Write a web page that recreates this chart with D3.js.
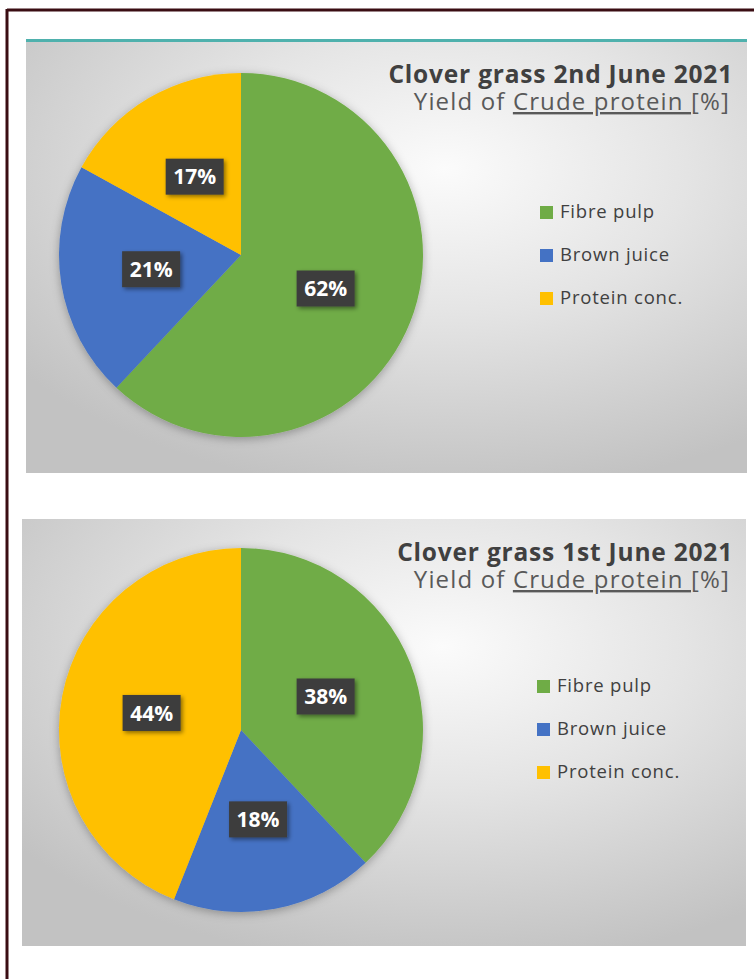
<!DOCTYPE html>
<html>
<head>
<meta charset="utf-8">
<script src="https://cdn.jsdelivr.net/npm/d3@7/dist/d3.min.js"></script>
<style>
  html, body { margin: 0; padding: 0; background: #ffffff; }
  svg { display: block; }
</style>
</head>
<body>
<svg id="chart" width="754" height="979"></svg>
<script>
// Crude protein yield split across the three process fractions
const categories = ["Fibre pulp", "Brown juice", "Protein conc."];
const sliceColors = ["#6fac46", "#4472c4", "#ffc000"];

const titleJune2 = "Clover grass 2nd June 2021";
const valuesJune2 = [62, 21, 17];

const titleJune1 = "Clover grass 1st June 2021";
const valuesJune1 = [38, 18, 44];

const subtitleLead = "Yield of ";
const subtitleUnderlined = "Crude protein ";
const subtitleTail = "[%]";

const svg = d3.select("#chart");
const defs = svg.append("defs");

// Soft grey radial fill of each chart area
const bg = defs.append("radialGradient")
  .attr("id", "panelFill")
  .attr("cx", "58%").attr("cy", "30%").attr("r", "75%");
bg.append("stop").attr("offset", "0%").attr("stop-color", "#fbfbfb");
bg.append("stop").attr("offset", "45%").attr("stop-color", "#e4e4e4");
bg.append("stop").attr("offset", "100%").attr("stop-color", "#c2c2c2");

const glow = defs.append("filter").attr("id", "pieGlow")
  .attr("x", "-20%").attr("y", "-20%").attr("width", "140%").attr("height", "140%");
glow.append("feDropShadow").attr("dx", 0).attr("dy", 2)
  .attr("stdDeviation", 5).attr("flood-color", "#000").attr("flood-opacity", 0.3);

const boxShadow = defs.append("filter").attr("id", "boxShadow")
  .attr("x", "-30%").attr("y", "-30%").attr("width", "160%").attr("height", "160%");
boxShadow.append("feDropShadow").attr("dx", 2).attr("dy", 2)
  .attr("stdDeviation", 2).attr("flood-color", "#000").attr("flood-opacity", 0.45);

// Outer frame (top and left edges)
svg.append("line").attr("x1", 7).attr("x2", 754).attr("y1", 10).attr("y2", 10)
  .attr("stroke", "#3a0d13").attr("stroke-width", 3);
svg.append("line").attr("x1", 7).attr("x2", 7).attr("y1", 9).attr("y2", 979)
  .attr("stroke", "#3a0d13").attr("stroke-width", 3);

const color = d3.scaleOrdinal().domain(categories).range(sliceColors);
const pie = d3.pie().sort(null).value(d => d.value);

function drawChart(cfg) {
  const g = svg.append("g");

  g.append("rect")
    .attr("x", cfg.x).attr("y", cfg.y)
    .attr("width", cfg.w).attr("height", cfg.h)
    .attr("fill", "url(#panelFill)");

  if (cfg.accent) {
    g.append("rect")
      .attr("x", cfg.x).attr("y", cfg.y)
      .attr("width", cfg.w).attr("height", 3)
      .attr("fill", "#4fb1ad");
  }

  const data = categories.map((c, i) => ({ category: c, value: cfg.values[i] }));
  const arcs = pie(data);
  const r = cfg.radius;
  const arc = d3.arc().innerRadius(0).outerRadius(r);

  const pieG = g.append("g")
    .attr("transform", `translate(${cfg.cx},${cfg.cy})`);

  pieG.append("g").attr("filter", "url(#pieGlow)")
    .selectAll("path")
    .data(arcs)
    .join("path")
    .attr("d", arc)
    .attr("fill", d => color(d.data.category));

  // Value labels: dark callout boxes at each slice centroid
  const labels = pieG.selectAll("g.lbl")
    .data(arcs)
    .join("g")
    .attr("class", "lbl")
    .attr("transform", d => {
      const [lx, ly] = arc.centroid(d);
      return `translate(${lx},${ly})`;
    });

  labels.append("rect")
    .attr("x", -29).attr("y", -18)
    .attr("width", 58).attr("height", 36)
    .attr("fill", "#3d3d3d")
    .attr("filter", "url(#boxShadow)");

  labels.append("text")
    .attr("text-anchor", "middle")
    .attr("dy", "0.36em")
    .attr("font-family", "'Open Sans', sans-serif")
    .attr("font-weight", 700)
    .attr("font-size", 21)
    .attr("fill", "#ffffff")
    .text(d => d.data.value + "%");

  // Title block
  g.append("text")
    .attr("x", cfg.titleRight).attr("y", cfg.titleY)
    .attr("text-anchor", "end")
    .attr("font-family", "'Open Sans', sans-serif")
    .attr("font-weight", 700)
    .attr("font-size", 24.5)
    .attr("letter-spacing", 0.8)
    .attr("fill", "#404040")
    .text(cfg.title);

  const sub = g.append("text")
    .attr("x", cfg.titleRight - 3).attr("y", cfg.titleY + 27)
    .attr("text-anchor", "end")
    .attr("font-family", "'Open Sans', sans-serif")
    .attr("font-size", 24)
    .attr("letter-spacing", 1.15)
    .attr("fill", "#595959");
  sub.append("tspan").text(subtitleLead);
  sub.append("tspan").attr("text-decoration", "underline").text(subtitleUnderlined);
  sub.append("tspan").text(subtitleTail);

  // Legend
  const legend = g.append("g")
    .attr("transform", `translate(${cfg.legendX},${cfg.legendY})`);
  const item = legend.selectAll("g")
    .data(categories)
    .join("g")
    .attr("transform", (d, i) => `translate(0,${i * 43})`);
  item.append("rect")
    .attr("x", 0).attr("y", -6)
    .attr("width", 13).attr("height", 13)
    .attr("fill", d => color(d));
  item.append("text")
    .attr("x", 20).attr("dy", "0.35em")
    .attr("font-family", "'Open Sans', sans-serif")
    .attr("font-size", 18.5)
    .attr("letter-spacing", 0.8)
    .attr("fill", "#404040")
    .text(d => d);
}

drawChart({
  x: 26, y: 39, w: 721, h: 434, accent: true,
  cx: 241, cy: 255, radius: 182,
  values: valuesJune2, title: titleJune2,
  titleRight: 733, titleY: 83,
  legendX: 540, legendY: 212
});

drawChart({
  x: 22, y: 519, w: 724, h: 427, accent: false,
  cx: 241, cy: 730, radius: 182,
  values: valuesJune1, title: titleJune1,
  titleRight: 733, titleY: 561,
  legendX: 537, legendY: 686
});
</script>
</body>
</html>
